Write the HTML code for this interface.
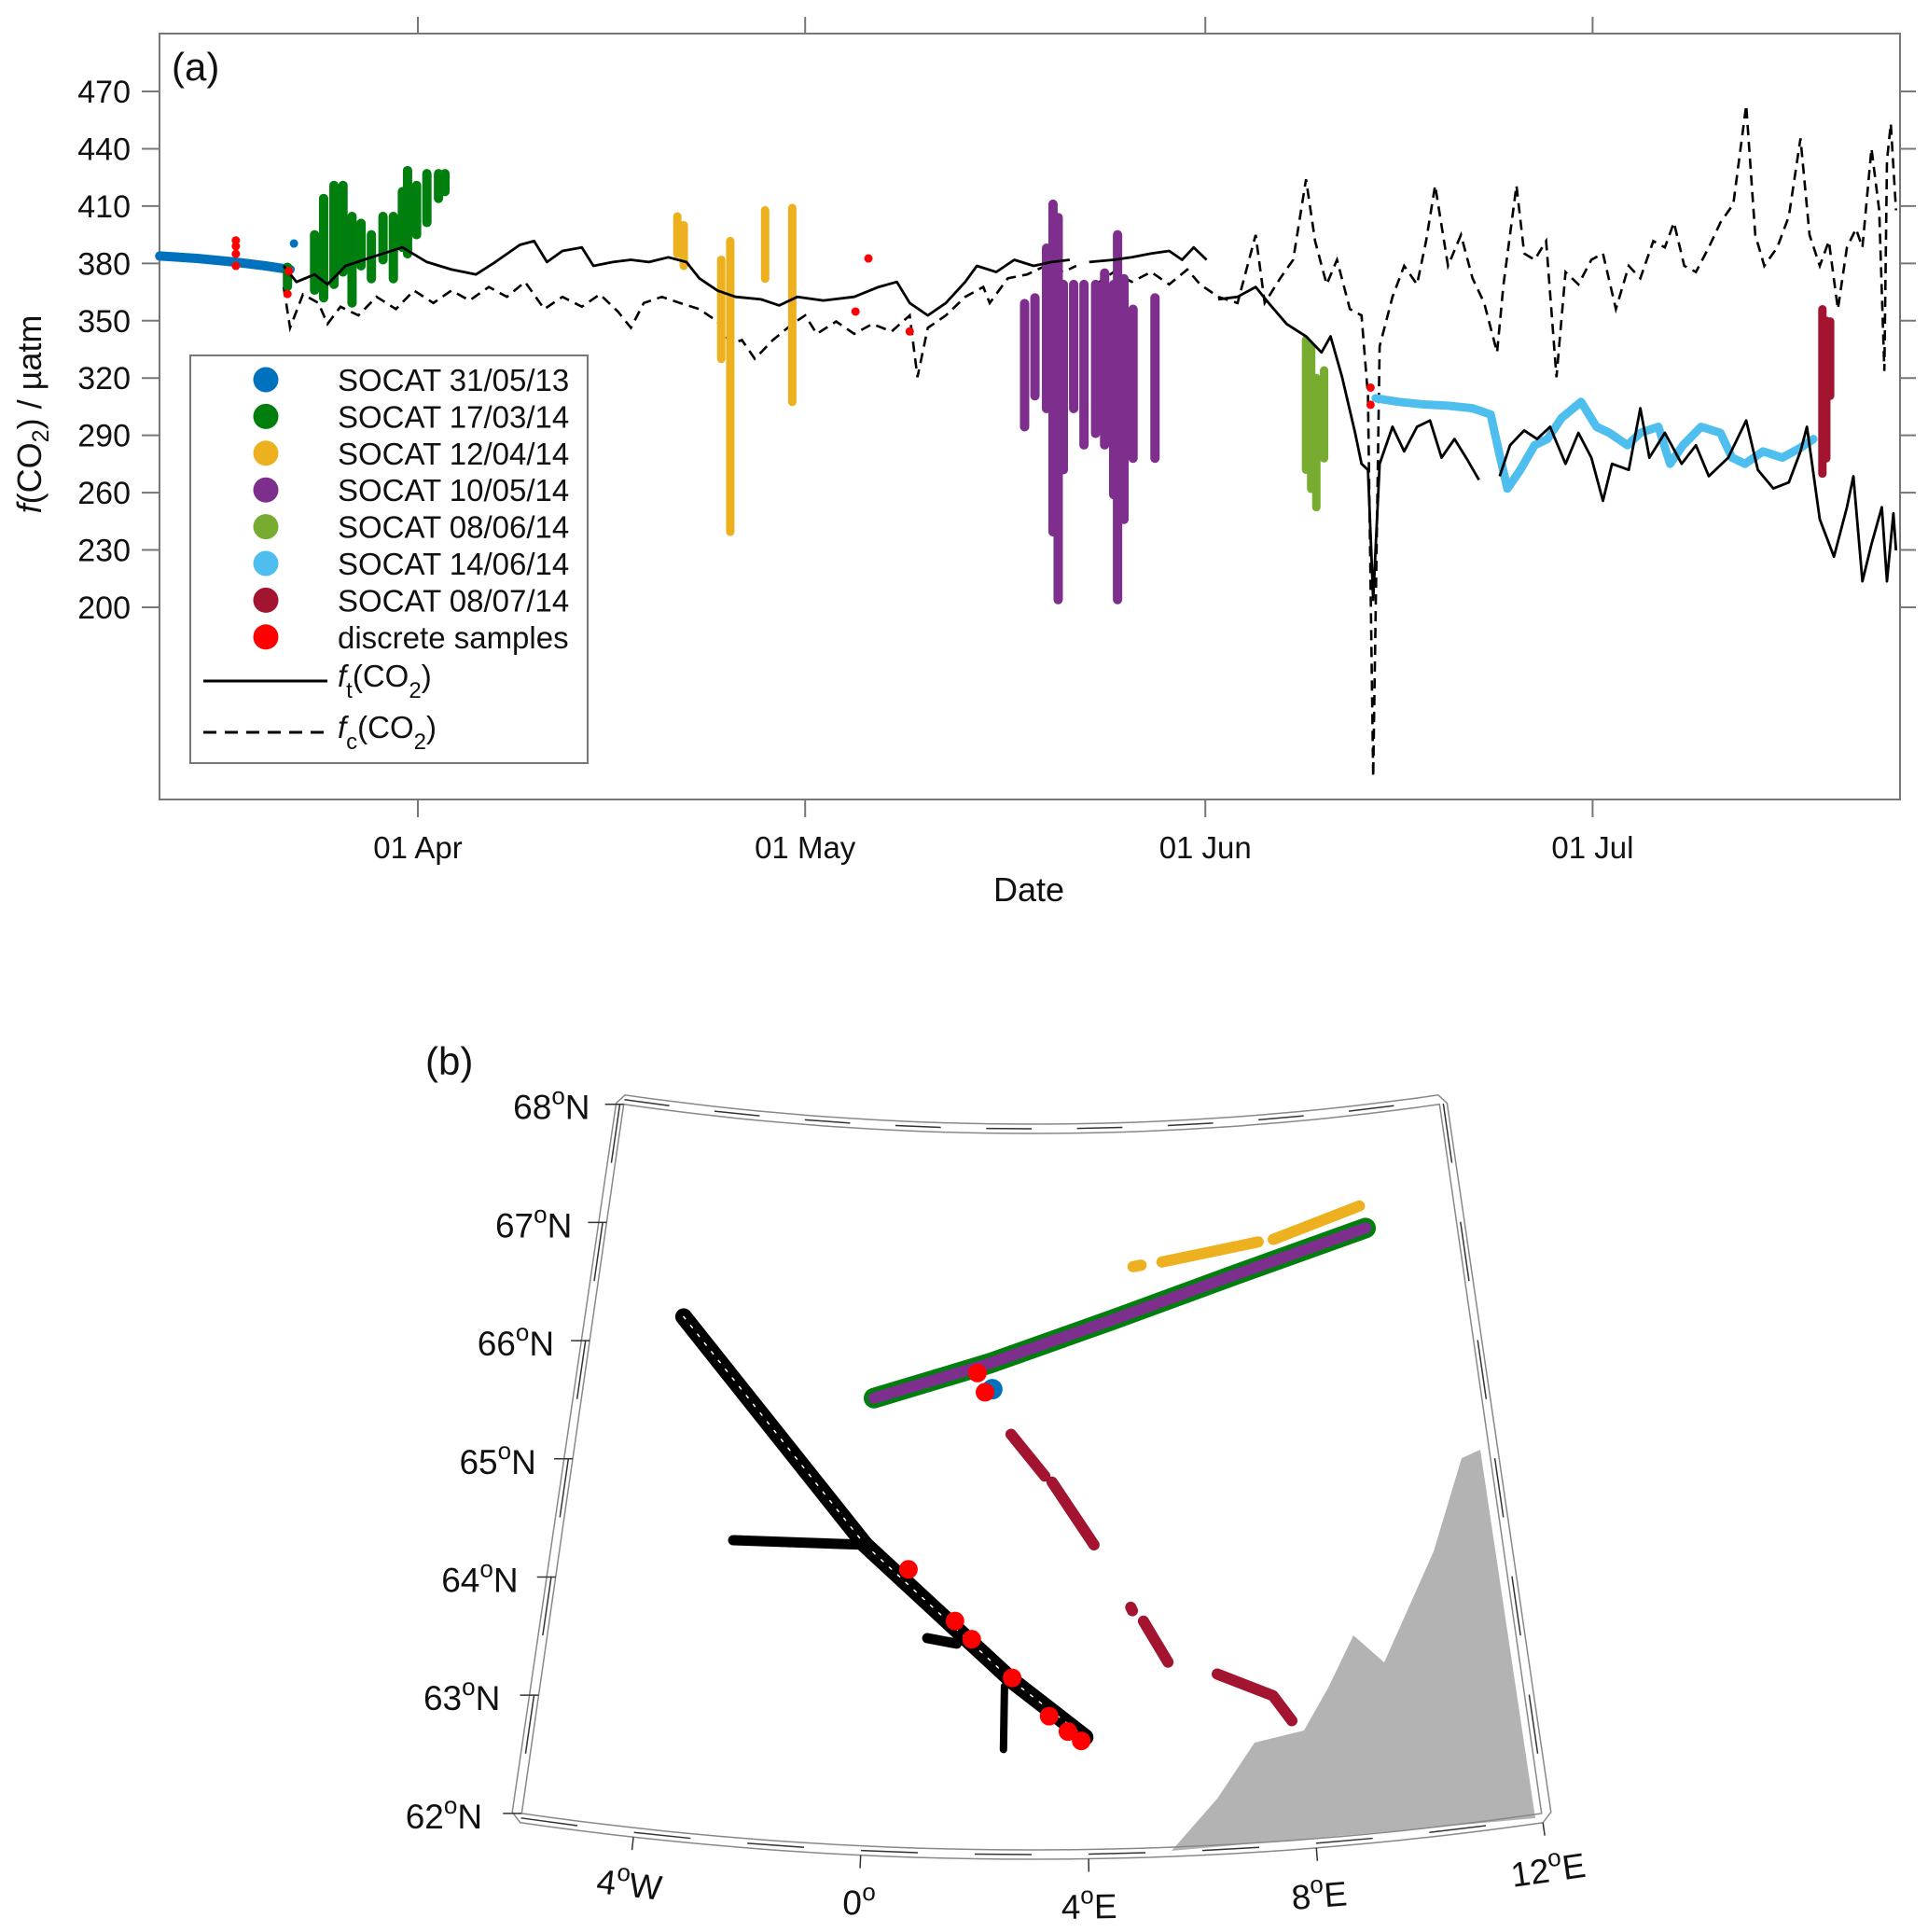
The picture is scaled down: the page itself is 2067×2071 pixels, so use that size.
<!DOCTYPE html>
<html><head><meta charset="utf-8"><style>
html,body{margin:0;padding:0;background:#fff;}
svg{display:block;font-family:"Liberation Sans",Arial,sans-serif;}
</style></head><body>
<svg id="fig" width="2067" height="2071" viewBox="0 0 2067 2071" xmlns="http://www.w3.org/2000/svg">
<g id="panelA"></g>
<g id="panelB"></g>
</svg>
<script>
// ---------- Panel (a) data ----------
// day = days since 01 Mar 2014 (01 Apr = 31)
const yTicks = [200,230,260,290,320,350,380,410,440,470];
const xTickDays = [31,61,92,122];
const xTickLabels = ["01 Apr","01 May","01 Jun","01 Jul"];
const ftDays = [20.6,21.6,23.0,24.0,25.4,27.4,29.8,31.7,33.6,35.5,37.0,38.9,40.0,41.0,42.2,43.7,44.6,46.1,47.5,48.9,50.4,51.8,52.8,54.2,55.6,57.6,59.0,60.4,62.4,64.8,66.7,68.1,69.1,70.5,71.9,73.4,74.3,75.8,77.2,78.7,80.1,81.5,null,83.0,84.9,86.3,87.8,89.2,90.2,91.1,92.1,null,93.0,94.5,95.9,96.9,98.3,99.8,101.0,101.7,102.6,103.6,104.1,104.6,105.0,105.5,106.5,107.4,108.4,109.4,110.3,111.3,112.2,113.2,null,114.8,115.6,116.7,117.7,118.7,119.9,120.9,121.9,122.8,123.5,124.8,125.7,126.4,127.6,128.9,130.0,131.0,132.5,133.9,134.8,136.0,137.2,138.1,138.6,139.6,140.7,141.7,142.2,142.9,143.6,144.4,144.8,145.3,145.5];
const ftVals = [378.7,370.3,374.2,369.0,378.7,383.2,388.4,380.7,376.8,374.2,380.7,389.7,391.7,380.7,386.5,388.4,378.7,380.7,381.9,380.7,383.2,380.7,372.2,365.8,362.5,361.2,358.0,362.5,360.6,362.5,367.7,370.3,359.3,352.8,359.3,370.3,378.7,375.5,381.9,378.7,380.7,381.9,null,380.7,381.9,383.2,385.2,386.5,381.9,388.4,381.9,null,361.2,362.5,367.7,359.3,348.3,341.8,333.4,341.8,320.4,291.3,275.1,271.9,203.9,275.1,294.5,281.6,294.5,297.8,278.3,288.1,278.3,266.7,null,268.6,284.8,292.6,288.1,294.5,275.1,291.3,278.3,255.7,275.1,271.9,304.2,278.3,291.3,275.1,284.8,268.6,278.3,297.8,271.9,262.2,265.4,281.6,294.5,246.0,226.5,252.4,268.6,213.6,233.0,252.4,213.6,249.2,229.8];
const fcDays = [20.6,21.1,22.1,23.3,24.0,25.0,26.4,27.8,29.3,30.7,32.2,33.6,35.0,36.5,37.9,39.3,40.8,42.2,43.7,45.1,46.5,47.5,48.5,49.9,51.3,52.8,54.2,55.2,56.1,57.1,58.5,60.0,61.0,61.9,63.4,64.8,66.2,67.7,69.1,69.7,70.5,71.9,73.4,74.8,75.3,76.7,78.2,79.6,81.0,82.0,null,83.5,84.9,86.3,87.8,89.2,90.6,91.6,93.0,94.5,95.9,96.6,97.8,98.8,99.8,100.5,101.4,102.2,103.2,104.1,104.6,105.0,105.5,106.5,107.4,108.4,109.1,109.8,110.8,111.8,112.7,113.6,114.6,115.1,116.1,116.7,117.5,118.4,119.2,119.9,120.9,121.9,122.8,123.8,124.8,125.7,126.7,127.6,128.3,129.1,130.0,131.0,131.9,132.9,133.9,134.6,135.3,136.3,137.2,138.1,138.8,139.6,140.3,141.0,141.7,142.4,142.9,143.6,144.2,144.6,144.8,145.1,145.5];
const fcVals = [367.7,346.3,363.8,359.3,348.3,357.3,352.8,362.5,356.1,365.8,359.3,365.8,360.6,367.7,362.5,370.3,356.1,362.5,357.3,363.8,354.8,346.3,359.3,362.5,359.3,356.1,349.6,337.9,339.9,330.1,339.9,348.3,352.8,343.1,349.6,343.1,348.3,344.4,352.8,320.4,346.3,352.8,362.5,367.7,359.3,372.2,374.2,378.7,375.5,378.7,null,369.0,375.5,370.3,375.5,369.0,376.8,369.0,362.5,359.3,394.9,359.3,372.2,381.9,424.0,391.7,369.0,381.9,356.1,352.8,310.7,111.3,336.6,362.5,378.7,369.0,391.7,420.8,378.7,394.9,372.2,359.3,333.4,369.0,420.8,385.2,381.9,391.7,320.4,375.5,369.0,381.9,385.2,356.1,378.7,372.2,391.7,388.4,401.4,378.7,375.5,388.4,401.4,411.1,462.9,394.9,378.7,388.4,404.6,445.4,394.9,378.7,391.7,356.1,388.4,398.1,388.4,440.2,407.8,323.7,433.7,453.2,407.8];
// SOCAT 31/05/13 (track)
const blueDays = [11.0,13.9,16.8,19.2,21.1];
const blueVals = [383.9,382.6,380.7,378.7,376.8];
// column cruises: day, min, max
const greenDays = [20.9,23.0,23.7,24.5,25.2,25.9,26.6,27.4,28.3,29.1,29.8,30.2,30.9,31.7,32.6,33.1];
const greenMin  = [368,366,362,369,375.5,359.3,378.7,372,381.9,372,388.4,385,395,401.4,414,417.6];
const greenMax  = [378,395,414,420.8,420.8,404.6,401,395,404.6,404.6,417.6,428.6,420.8,427,427,427];
const yellowDays = [51.1,51.6,54.5,55.2,57.9,60.0];
const yellowMin  = [385,378.7,330,239.5,372,307.5];
const yellowMax  = [404.6,400,381.9,391.7,407.8,409];
const purpleDays = [78.0,78.8,79.7,80.2,80.6,81.0,81.8,82.6,83.5,84.2,84.9,85.2,85.7,86.4,88.1];
const purpleMin  = [294.5,310.7,304,239.5,204,272,304,285,291,285,259,204,246,278,278];
const purpleMax  = [359,362,388,411,404,369,369,369,369,375,369,395,372,356,362];
const lgreenDays = [99.8,100.2,100.6,101.2];
const lgreenMin  = [272,262,252.4,278];
const lgreenMax  = [340,336,320,324];
const dredDays = [139.8,140.1,140.4];
const dredMin  = [270,278,310.7];
const dredMax  = [356,350,349.6];
const lblueDays = [105.2,107.0,108.9,110.8,112.7,114.1,114.8,115.4,116.4,117.5,118.5,119.6,121.1,122.3,123.3,124.7,125.7,127.1,128.0,129.0,130.4,131.9,132.8,133.8,135.2,136.7,138.1,139.1];
const lblueVals = [309.4,307.5,306.2,305.5,304.2,301.0,279.6,262.1,271.9,284.8,288.1,299.1,307.5,294.5,291.3,284.8,291.3,294.5,275.1,284.8,294.5,291.3,278.3,275.1,281.6,278.3,283.5,288.1];
const discDays = [16.9,16.9,16.9,16.9,20.9,21.0,65.9,64.9,69.1,104.8,104.8];
const discVals = [378.7,385,389,392,364,376,382.6,354.8,344.4,315,306];
const legendLabels = ["SOCAT 31/05/13","SOCAT 17/03/14","SOCAT 12/04/14","SOCAT 10/05/14","SOCAT 08/06/14","SOCAT 14/06/14","SOCAT 08/07/14","discrete samples"];
const legendColors = ["#0072bd","#007f0e","#edb120","#7e2f8e","#77ac30","#4dbeee","#a2142f","#ff0000"];

// ---------- Panel (b) data (lon, lat) ----------
const trackLon = [-4.16,-0.2,2.66,3.97];
const trackLat = [66.3,64.52,63.41,62.94];
const branch1Lon = [-2.73,-0.2], branch1Lat = [64.48,64.52];
const branch2Lon = [1.05,1.6], branch2Lat = [63.76,63.72];
const branch3Lon = [2.5,2.49], branch3Lat = [63.37,62.84];
const gpLon = [-0.17,2.13,4.67,7.27,10.08];
const gpLat = [65.75,66.07,66.43,66.76,67.05];
const yelSegLon = [[5.13,5.3],[5.74,7.79],[8.11,10.0]];
const yelSegLat = [[66.87,66.88],[66.9,67.02],[67.03,67.24]];
const drSegLon = [[2.59,3.26],[3.4,4.2],[4.87,4.9],[5.10,5.53],[6.43,7.43,7.74]];
const drSegLat = [[65.48,65.13],[65.08,64.55],[64.02,63.99],[63.9,63.55],[63.43,63.22,63.0]];
const redLon = [1.90,0.65,1.56,1.88,2.64,3.32,3.66,3.9];
const redLat = [65.99,64.33,63.91,63.76,63.44,63.12,62.99,62.91];
const blueMapLon = [2.15], blueMapLat = [65.84];
const latTicks = [62,63,64,65,66,67,68];
const lonTicks = [-4,0,4,8,12];
const lonLabels = ["4","0","4","8","12"];
const lonHemi = ["W","","E","E","E"];

const NS="http://www.w3.org/2000/svg";
function mk(tag, attrs, parent){const e=document.createElementNS(NS,tag);for(const k in attrs)e.setAttribute(k,attrs[k]);parent.appendChild(e);return e;}

// ---------- Panel (a) ----------
const A=document.getElementById('panelA');
const L=171,R=2037,T=36,B=857;
const X=d=>448+(d-31)*13.84;
const Y=v=>651-(v-200)*2.048;
function ptsPath(ds,vs){let s="",pen=false;for(let i=0;i<ds.length;i++){if(ds[i]===null){pen=false;continue;}s+=(pen?"L":"M")+X(ds[i]).toFixed(1)+","+Y(vs[i]).toFixed(1);pen=true;}return s;}

let box=mk('rect',{x:L,y:T,width:R-L,height:B-T,fill:'none',stroke:'#777','stroke-width':2},A);



yTicks.forEach(v=>{
  let t=mk('line',{x1:L-19,x2:L,y1:Y(v),y2:Y(v),stroke:'#777','stroke-width':2},A);
  
  
  let t2=mk('line',{x1:R,x2:R+17,y1:Y(v),y2:Y(v),stroke:'#777','stroke-width':2},A);
  
  
  let tx=mk('text',{x:140,y:Y(v)+12,'text-anchor':'end','font-size':34,fill:'#111'},A);
  tx.textContent=v;
  
  
});
xTickDays.forEach((d,i)=>{
  let t=mk('line',{x1:X(d),x2:X(d),y1:B,y2:B+19,stroke:'#777','stroke-width':2},A);
  
  
  let t2=mk('line',{x1:X(d),x2:X(d),y1:T-18,y2:T,stroke:'#777','stroke-width':2},A);
  
  
  let tx=mk('text',{x:X(d),y:920,'text-anchor':'middle','font-size':33,fill:'#111'},A);
  tx.textContent=xTickLabels[i];
  
  
});
let xl=mk('text',{x:1103,y:966,'text-anchor':'middle','font-size':36,fill:'#111'},A);
xl.textContent='Date';


let yl=mk('text',{x:0,y:0,'text-anchor':'middle','font-size':36,fill:'#111',transform:'translate(44,444) rotate(-90)'},A);
yl.innerHTML='<tspan font-style="italic">f</tspan>(CO<tspan font-size="25" dy="8">2</tspan><tspan dy="-8">) / µatm</tspan>';


let pa=mk('text',{x:184,y:86,'font-size':42,fill:'#111'},A);
pa.textContent='(a)';



// columns
function columns(ds,mins,maxs,color,name,w){
  const g=mk('g',{},A);
  
  
  ds.forEach((d,i)=>{
    let c=mk('line',{x1:X(d),x2:X(d),y1:Y(maxs[i]),y2:Y(mins[i]),stroke:color,'stroke-width':w,'stroke-linecap':'round'},g);
    
    
  });
}
// lines
let fc=mk('path',{d:ptsPath(fcDays,fcVals),fill:'none',stroke:'#000','stroke-width':2.6,'stroke-dasharray':'11 7'},A);



let bl=mk('path',{d:ptsPath(blueDays,blueVals),fill:'none',stroke:'#0072bd','stroke-width':10,'stroke-linecap':'round'},A);


let bdot=mk('circle',{cx:X(21.4),cy:Y(390.4),r:4.5,fill:'#0072bd'},A);


columns(greenDays,greenMin,greenMax,'#007f0e','socat-170314',10);
columns(yellowDays,yellowMin,yellowMax,'#edb120','socat-120414',9);
columns(purpleDays,purpleMin,purpleMax,'#7e2f8e',"socat-100514",10);
columns(lgreenDays,lgreenMin,lgreenMax,'#77ac30','socat-080614',9);
columns(dredDays,dredMin,dredMax,'#a2142f','socat-080714',9);
let lb=mk('path',{d:ptsPath(lblueDays,lblueVals),fill:'none',stroke:'#4dbeee','stroke-width':9,'stroke-linecap':'round','stroke-linejoin':'round'},A);



let ft=mk('path',{d:ptsPath(ftDays,ftVals),fill:'none',stroke:'#000','stroke-width':2.8,'stroke-linejoin':'round'},A);


discDays.forEach((d,i)=>{
  let c=mk('circle',{cx:X(d),cy:Y(discVals[i]),r:4.5,fill:'#ff0000'},A);
  
  
});

// legend
const lg=mk('g',{},A);


let lbx=mk('rect',{x:204,y:381,width:426,height:437,fill:'#fff',stroke:'#777','stroke-width':2},lg);


legendLabels.forEach((s,i)=>{
  const yy=407+i*39.4;
  let c=mk('circle',{cx:285,cy:yy,r:13.5,fill:legendColors[i]},lg);
  
  
  let t=mk('text',{x:362,y:yy+12,'font-size':33,fill:'#111'},lg);
  t.textContent=s;
  
  
});
let l1=mk('line',{x1:218,x2:351,y1:730,y2:730,stroke:'#000','stroke-width':3},lg);


let t1=mk('text',{x:362,y:736,'font-size':33,fill:'#111'},lg);
t1.innerHTML='<tspan font-style="italic">f</tspan><tspan font-size="24" dy="12">t</tspan><tspan dy="-12">(CO</tspan><tspan font-size="24" dy="12">2</tspan><tspan dy="-12">)</tspan>';


let l2=mk('line',{x1:218,x2:351,y1:785,y2:785,stroke:'#000','stroke-width':3,'stroke-dasharray':'14 9'},lg);


let t2=mk('text',{x:362,y:791,'font-size':33,fill:'#111'},lg);
t2.innerHTML='<tspan font-style="italic">f</tspan><tspan font-size="24" dy="12">c</tspan><tspan dy="-12">(CO</tspan><tspan font-size="24" dy="12">2</tspan><tspan dy="-12">)</tspan>';



// ---------- Panel (b) ----------
const M=document.getElementById('panelB');
const CX=1106,CY=-1855,N=0.91,LON0=3;
const rad=lat=>3838-(lat-62)*128;
function P(lon,lat,dr){const r=rad(lat)+(dr||0);const a=N*(lon-LON0)*Math.PI/180;return [CX+r*Math.sin(a),CY+r*Math.cos(a)];}
function lonlatPath(lons,lats){return lons.map((lo,i)=>{const p=P(lo,lats[i]);return (i?'L':'M')+p[0].toFixed(1)+','+p[1].toFixed(1);}).join('');}
function boundary(off){let s='';const pts=[];
  for(let lo=-6;lo<=12;lo+=0.5)pts.push(P(lo,62,off));
  for(let la=62;la<=68;la+=0.5)pts.push(P(12+off/60,la));
  for(let lo=12;lo>=-6;lo-=0.5)pts.push(P(lo,68,-off));
  for(let la=68;la>=62;la-=0.5)pts.push(P(-6-off/60,la));
  pts.forEach((p,i)=>s+=(i?'L':'M')+p[0].toFixed(1)+','+p[1].toFixed(1));return s+'Z';}

let land=mk('path',{d:'M1256,1984L1305,1928L1345,1868L1398,1855L1424,1809L1451,1753L1484,1782L1537,1663L1567,1563L1587,1554L1646,1949Z',fill:'#b3b3b3',stroke:'none'},M);



let fo=mk('path',{d:boundary(10),fill:'none',stroke:'#888','stroke-width':1.5},M);


let fi=mk('path',{d:boundary(0),fill:'none',stroke:'#888','stroke-width':1.5},M);


// alternating frame segments
for(let lo=-6;lo<12;lo+=2){
  const a=P(lo,62,5),b=P(lo+1,62,5),c=P(lo,68,-5),d=P(lo+1,68,-5);
  let s1=mk('line',{x1:a[0],y1:a[1],x2:b[0],y2:b[1],stroke:'#333','stroke-width':1.5},M);
  
  
  let s2=mk('line',{x1:c[0],y1:c[1],x2:d[0],y2:d[1],stroke:'#333','stroke-width':1.5},M);
  
  
}
for(let la=62.5;la<68;la+=1){
  const a=P(-6-5/60,la),b=P(-6-5/60,la+0.5),c=P(12+5/60,la),d=P(12+5/60,la+0.5);
  let s1=mk('line',{x1:a[0],y1:a[1],x2:b[0],y2:b[1],stroke:'#333','stroke-width':1.5},M);
  
  
  let s2=mk('line',{x1:c[0],y1:c[1],x2:d[0],y2:d[1],stroke:'#333','stroke-width':1.5},M);
  
  
}
// lat labels
latTicks.forEach(la=>{
  const p=P(-6,la),q=P(-6.5,la);
  let tk=mk('line',{x1:p[0]-20,y1:p[1],x2:p[0],y2:p[1],stroke:'#333','stroke-width':1.5},M);
  
  
  let t=mk('text',{x:q[0]-12,y:p[1]+16,'text-anchor':'end','font-size':37,fill:'#111'},M);
  t.innerHTML=la+'<tspan font-size="26" dy="-16">o</tspan><tspan dy="16">N</tspan>';
  
  
});
lonTicks.forEach((lo,i)=>{
  const p=P(lo,62,10),p2=P(lo,62,24),q=P(lo,62,62);
  let tk=mk('line',{x1:p[0],y1:p[1],x2:p2[0],y2:p2[1],stroke:'#333','stroke-width':1.5},M);
  
  
  const ang=-N*(lo-LON0);
  let t=mk('text',{x:0,y:0,'text-anchor':'middle','font-size':37,fill:'#111',transform:`translate(${q[0].toFixed(1)},${(q[1]+12).toFixed(1)}) rotate(${ang.toFixed(1)})`},M);
  t.innerHTML=lonLabels[i]+'<tspan font-size="26" dy="-16">o</tspan><tspan dy="16">'+lonHemi[i]+'</tspan>';
  
  
});
let pb=mk('text',{x:456,y:1152,'font-size':42,fill:'#111'},M);
pb.textContent='(b)';



// tracks
function trk(d,color,w,name,extra){const e=mk('path',Object.assign({d:d,fill:'none',stroke:color,'stroke-width':w,'stroke-linecap':'round','stroke-linejoin':'round'},extra||{}),M);
  
  return e;}
trk(lonlatPath(trackLon,trackLat),'#000',18,'mooring-track');
trk(lonlatPath(trackLon,trackLat),'#fff',1.5,'mooring-track-texture',{'stroke-dasharray':'3 9'});
trk(lonlatPath(branch1Lon,branch1Lat),'#000',11,'mooring-track-branch');
trk(lonlatPath(branch2Lon,branch2Lat),'#000',11,'mooring-track-branch');
trk(lonlatPath(branch3Lon,branch3Lat),'#000',8,'mooring-track-branch');
trk(lonlatPath(gpLon,gpLat),'#007f0e',22,'socat-170314-map-track');
trk(lonlatPath(gpLon,gpLat),'#7e2f8e',12,'socat-100514-map-track');
yelSegLon.forEach((s,i)=>trk(lonlatPath(s,yelSegLat[i]),'#edb120',12,'socat-120414-map-track'));
drSegLon.forEach((s,i)=>trk(lonlatPath(s,drSegLat[i]),'#a2142f',12,'socat-080714-map-track'));
blueMapLon.forEach((lo,i)=>{const p=P(lo,blueMapLat[i]);
  let c=mk('circle',{cx:p[0]+3,cy:p[1]-2,r:11,fill:'#0072bd'},M);
  
  });
redLon.forEach((lo,i)=>{const p=P(lo,redLat[i]);
  let c=mk('circle',{cx:p[0],cy:p[1],r:10,fill:'#ff0000'},M);
  
  });
const pbd=P(2.06,65.83);
let rc=mk('circle',{cx:pbd[0],cy:pbd[1],r:10,fill:'#ff0000'},M);


</script>
</body></html>
